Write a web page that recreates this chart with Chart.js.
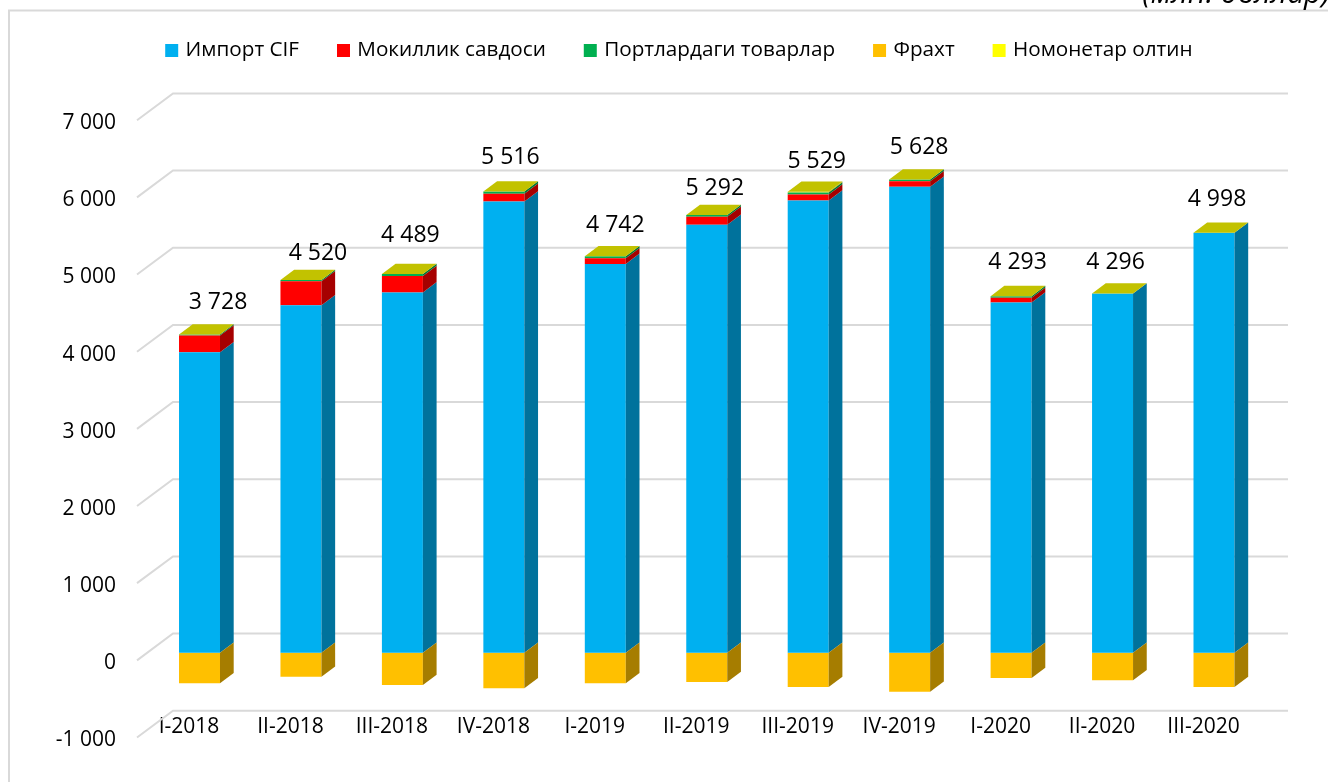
<!DOCTYPE html>
<html lang="uz">
<head>
<meta charset="utf-8">
<title>Импорт</title>
<style>
html,body{margin:0;padding:0;background:#fff;width:1328px;height:782px;overflow:hidden;position:relative}
canvas{display:block}
#unit{position:absolute;right:-2px;top:-28px;font:italic 30px "Open Sans",sans-serif;line-height:40px;color:#000;white-space:nowrap}
</style>
<script src="https://cdn.jsdelivr.net/npm/chart.js@4/dist/chart.umd.min.js"></script>
</head>
<body>
<canvas id="c" width="1328" height="782"></canvas>
<div id="unit">(млн. доллар)</div>
<script>
const categories = ["I-2018","II-2018","III-2018","IV-2018","I-2019","II-2019","III-2019","IV-2019","I-2020","II-2020","III-2020"];
const importCif   = [3895,4503,4670,5847,5039,5546,5860,6038,4539,4654,5442];
const reexport    = [216,311,213,100,73,104,78,73,60,0,0];
const portGoods   = [13,17,24,30,26,22,26,22,22,0,0];
const freight     = [-396,-311,-418,-461,-396,-380,-444,-505,-328,-358,-444];
const gold        = [0,0,0,0,0,0,9,0,0,0,0];
const totals      = [3728,4520,4489,5516,4742,5292,5529,5628,4293,4296,4998];
const seriesNames = ["Импорт CIF","Мокиллик савдоси","Портлардаги товарлар","Фрахт","Номонетар олтин"];

const FONT = '"Open Sans",sans-serif';
const front = ["#00B0F0","#FF0000","#00B050","#FFC000","#FFFF00"];
const side  = ["#00729C","#A60000","#007334","#A67D00","#A6A600"];
const TOP_FACE = "#C2C200", GRID = "#D9D9D9";
const DX = 13.7, DY = 10.3;                 // bar depth
const labelNudgeX = [18.5,17,8,6.5,10,8,8.5,9.5,6.5,3,3];
const labelNudgeY = [32,27,39,34,31,27,30,32,34,31,33.5];

const walls = {
  id:"walls",
  beforeDraw(ch){
    const g=ch.ctx; g.save();
    g.strokeStyle=GRID; g.lineWidth=2;
    g.beginPath(); g.moveTo(9,783); g.lineTo(9,10.5); g.lineTo(1329,10.5); g.stroke();
    g.restore();
  },
  beforeDatasetsDraw(ch){
    const g=ch.ctx, y=ch.scales.y; g.save();
    g.strokeStyle=GRID; g.lineWidth=2; g.lineJoin="miter";
    y.ticks.forEach(t=>{
      const p=y.getPixelForValue(t.value);
      g.beginPath(); g.moveTo(137,p+7.6); g.lineTo(173,p-19.2); g.lineTo(1288,p-19.2); g.stroke();
    });
    g.restore();
  }
};

const bars3d = {
  id:"bars3d",
  afterDatasetsDraw(ch){
    const g=ch.ctx; g.save();
    ch.data.datasets.forEach((ds,i)=>{
      ch.getDatasetMeta(i).data.forEach(b=>{
        const r=b.x+b.width/2, t=Math.min(b.y,b.base), u=Math.max(b.y,b.base);
        if(u-t<0.01) return;
        g.fillStyle=side[i];
        g.beginPath(); g.moveTo(r,t); g.lineTo(r+DX,t-DY); g.lineTo(r+DX,u-DY); g.lineTo(r,u); g.closePath(); g.fill();
      });
    });
    const last=ch.getDatasetMeta(ch.data.datasets.length-1).data;
    last.forEach((b,j)=>{
      const l=b.x-b.width/2, r=b.x+b.width/2, t=b.y;
      g.fillStyle=TOP_FACE;
      g.beginPath(); g.moveTo(l,t); g.lineTo(r,t); g.lineTo(r+DX,t-DY); g.lineTo(l+DX,t-DY); g.closePath(); g.fill();
      g.fillStyle="#000"; g.font="23px "+FONT; g.textAlign="center"; g.textBaseline="middle";
      g.fillText(fmt(totals[j]), b.x+labelNudgeX[j], t-labelNudgeY[j]);
    });
    g.restore();
  }
};

const legendShift = {
  id:"legendShift",
  afterLayout(ch){
    const L=ch.legend; L.left+=48; L.right+=48; L.top-=41.75; L.bottom-=41.75;
  }
};

function fmt(v){ return String(v).replace(/\B(?=(\d{3})+(?!\d))/g," "); }

new Chart(document.getElementById("c"),{
  type:"bar",
  data:{
    labels:categories,
    datasets:[importCif,reexport,portGoods,freight,gold].map((d,i)=>({
      label:seriesNames[i], data:d, backgroundColor:front[i], borderWidth:0,
      stack:"s", barPercentage:0.404, categoryPercentage:1
    }))
  },
  options:{
    responsive:false, animation:false, events:[],
    layout:{padding:{top:40.9,left:0,right:63.28,bottom:0}},
    plugins:{
      tooltip:{enabled:false},
      legend:{
        position:"top",
        labels:{
          padding:41, boxWidth:7, boxHeight:7, color:"#000",
          font:{family:FONT,size:20.7},
          generateLabels(ch){
            return ch.data.datasets.map((d,i)=>({
              text:d.label, fillStyle:front[i], strokeStyle:front[i], lineWidth:6,
              datasetIndex:i, hidden:false
            }));
          }
        }
      }
    },
    scales:{
      x:{
        stacked:true,
        grid:{display:false,drawTicks:false},
        border:{display:false},
        ticks:{color:"#000",font:{family:FONT,size:21},mirror:true,padding:-9.3,labelOffset:-10.5,autoSkip:false,maxRotation:0,minRotation:0},
        afterFit(s){ s.height=52.1; }
      },
      y:{
        stacked:true, min:-1000, max:7000,
        grid:{display:false,drawTicks:false},
        border:{display:false},
        ticks:{stepSize:1000,color:"#000",font:{family:FONT,size:21},padding:32.8,labelOffset:10.5,callback:v=>fmt(v)},
        afterFit(s){ s.width=148.78; }
      }
    }
  },
  plugins:[walls,bars3d,legendShift]
});
</script>
</body>
</html>
